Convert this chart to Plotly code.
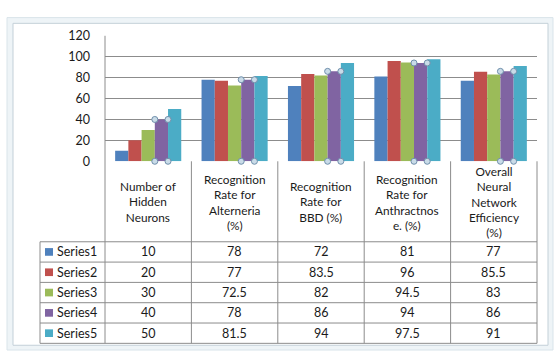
import plotly.graph_objects as go

categories = ["Number of<br>Hidden<br>Neurons",
              "Recognition<br>Rate for<br>Alterneria<br>(%)",
              "Recognition<br>Rate for<br>BBD (%)",
              "Recognition<br>Rate for<br>Anthractnos<br>e. (%)",
              "Overall<br>Neural<br>Network<br>Efficiency<br>(%)"]
series_names = ["Series1", "Series2", "Series3", "Series4", "Series5"]
series1 = [10, 78, 72, 81, 77]
series2 = [20, 77, 83.5, 96, 85.5]
series3 = [30, 72.5, 82, 94.5, 83]
series4 = [40, 78, 86, 94, 86]
series5 = [50, 81.5, 94, 97.5, 91]
series_values = [series1, series2, series3, series4, series5]
colors = ["#4F81BD", "#C0504D", "#9BBB59", "#8064A2", "#4BACC6"]
y_ticks = [0, 20, 40, 60, 80, 100, 120]
selected_series = 3  # Series4 shows selection handles

W, H = 557, 358
FONT = "Lato"
FS = 12.5
FS_HEAD = 11.8
TXT = "#1a1a1a"
GRID = "#8c8c8c"
BARGAP = 0.235

def px(x):
    return x / W

def py(y):
    return 1 - y / H

# layout geometry (pixels)
PL, PR, PT, PB = 105, 537, 29, 160
HEAD_B = 244
ROW_H = 21.2
LEG_L = 40

fig = go.Figure()
n = len(categories)
keys = list(range(n))
for name, vals, col in zip(series_names, series_values, colors):
    fig.add_trace(go.Bar(x=keys, y=vals, name=name, marker_color=col,
                         marker_line_width=0, showlegend=False))

# selection handles on the selected series (computed from bar geometry)
ns = len(series_names)
bw = (1 - BARGAP) / ns
left_off = -(1 - BARGAP) / 2 + bw * selected_series
hx, hy = [], []
for i, v in enumerate(series_values[selected_series]):
    for off in (left_off, left_off + bw):
        hx += [i + off, i + off]
        hy += [v, 0]
fig.add_trace(go.Scatter(x=hx, y=hy, mode="markers", showlegend=False, hoverinfo="skip",
                         marker=dict(symbol="circle", size=6, color="#c9dbe8",
                                     line=dict(color="#6f8fab", width=1)), cliponaxis=False))

shapes = []
annotations = []
# frame
shapes.append(dict(type="rect", xref="paper", yref="paper", x0=px(7), x1=px(553), y0=py(357), y1=py(10),
                   line=dict(color="#d9e4ea", width=1), fillcolor="#eef4f7", layer="below"))
shapes.append(dict(type="rect", xref="paper", yref="paper", x0=px(13), x1=px(548), y0=py(352), y1=py(16),
                   line=dict(color="#c3d0d8", width=1), fillcolor="white", layer="below"))

cw = (PR - PL) / n
bottom = HEAD_B + ROW_H * ns
for i in range(n + 1):
    x = PL + cw * i
    y0 = PT if i == 0 else PB
    shapes.append(dict(type="line", xref="paper", yref="paper", x0=px(x), x1=px(x), y0=py(y0), y1=py(bottom),
                       line=dict(color=GRID, width=1), layer="below"))
shapes.append(dict(type="line", xref="paper", yref="paper", x0=px(LEG_L), x1=px(LEG_L), y0=py(HEAD_B), y1=py(bottom),
                   line=dict(color=GRID, width=1)))
for r in range(ns + 1):
    y = HEAD_B + ROW_H * r
    shapes.append(dict(type="line", xref="paper", yref="paper", x0=px(LEG_L), x1=px(PR), y0=py(y), y1=py(y),
                       line=dict(color=GRID, width=1)))

for i, cat in enumerate(categories):
    annotations.append(dict(xref="paper", yref="paper", x=px(PL + cw * (i + 0.5)), y=py((PB + HEAD_B) / 2 + 1),
                            text=cat, showarrow=False, xanchor="center", yanchor="middle",
                            font=dict(family=FONT, size=FS_HEAD, color=TXT)))
for r, (name, vals, col) in enumerate(zip(series_names, series_values, colors)):
    yc = HEAD_B + ROW_H * (r + 0.5)
    shapes.append(dict(type="rect", xref="paper", yref="paper", x0=px(45), x1=px(53), y0=py(yc + 4), y1=py(yc - 4),
                       line=dict(width=0), fillcolor=col))
    annotations.append(dict(xref="paper", yref="paper", x=px(55), y=py(yc), text=name, showarrow=False,
                            xanchor="left", yanchor="middle", font=dict(family=FONT, size=FS, color=TXT)))
    for i, v in enumerate(vals):
        annotations.append(dict(xref="paper", yref="paper", x=px(PL + cw * (i + 0.5)), y=py(yc),
                                text=f"{v:g}", showarrow=False, xanchor="center", yanchor="middle",
                                font=dict(family=FONT, size=FS, color=TXT)))

fig.update_layout(
    width=W, height=H, margin=dict(l=0, r=0, t=0, b=0),
    paper_bgcolor="white", plot_bgcolor="rgba(0,0,0,0)",
    barmode="group", bargap=BARGAP, bargroupgap=0,
    shapes=shapes, annotations=annotations,
    xaxis=dict(domain=[px(PL), px(PR)], range=[-0.5, n - 0.5], showticklabels=False, showgrid=False,
               zeroline=False, showline=False, ticks=""),
    yaxis=dict(domain=[py(PB), py(PT)], range=[0, 120], tickvals=y_ticks, showgrid=True,
               gridcolor=GRID, gridwidth=1, zeroline=False, showline=False, ticks="",
               tickfont=dict(family=FONT, size=FS, color=TXT), ticklabelstandoff=14),
)
fig.write_html("out.html")
